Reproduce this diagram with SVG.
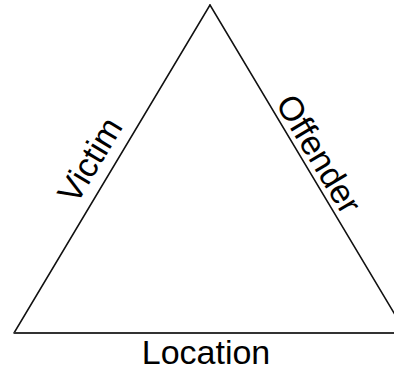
<svg xmlns="http://www.w3.org/2000/svg" width="394" height="370" viewBox="0 0 394 370">
<style>
.side{stroke:#111;stroke-width:1.5;fill:none;stroke-linecap:round}
.base{stroke:#333;stroke-width:2.2;fill:none}
.lbl{font-family:"Liberation Sans",Arial,sans-serif;font-size:34px;fill:#000;text-anchor:middle}
</style>
<rect width="394" height="370" fill="#fff"/>
<g id="connectors">
<line class="side" x1="210" y1="5" x2="14" y2="333"/>
<line class="side" x1="210" y1="5" x2="406" y2="333"/>
<line class="base" x1="14" y1="333" x2="394" y2="333"/>
</g>
<g id="victim"><text class="lbl" transform="translate(100,166) rotate(-59)">Victim</text></g>
<g id="offender"><text class="lbl" transform="translate(309,160) rotate(59)">Offender</text></g>
<g id="location"><text class="lbl" x="206" y="364">Location</text></g>
</svg>
